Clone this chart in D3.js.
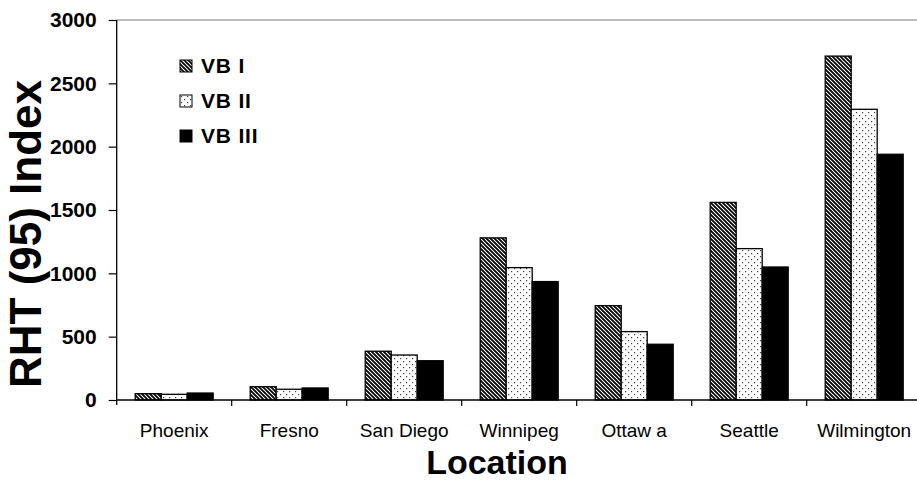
<!DOCTYPE html>
<html>
<head>
<meta charset="utf-8">
<script src="https://cdn.jsdelivr.net/npm/d3@7"></script>
<style>
  html, body { margin: 0; padding: 0; background: #fff; }
  svg { display: block; font-family: Arial, "Liberation Sans", sans-serif; }
</style>
</head>
<body>
<svg id="chart" width="917" height="480"></svg>
<script>
// Locations along the x axis
const locations = ["Phoenix", "Fresno", "San Diego", "Winnipeg", "Ottaw a", "Seattle", "Wilmington"];
// Series names
const seriesNames = ["VB I", "VB II", "VB III"];
// RHT(95) index values per series, in location order
const vb1 = [50, 105, 385, 1280, 745, 1560, 2715];
const vb2 = [45, 85, 355, 1045, 540, 1195, 2295];
const vb3 = [55, 95, 310, 935, 440, 1050, 1940];
const yTicks = [0, 500, 1000, 1500, 2000, 2500, 3000];

const seriesValues = [vb1, vb2, vb3];
const fills = ["url(#hatch)", "url(#dots)", "#000"];

const svg = d3.select("#chart");
const plotLeft = 116.7, plotRight = 921.7, plotTop = 20, plotBottom = 400;

// Fill patterns
const defs = svg.append("defs");
const hatch = defs.append("pattern")
  .attr("id", "hatch").attr("patternUnits", "userSpaceOnUse")
  .attr("width", 4).attr("height", 4);
hatch.append("rect").attr("width", 4).attr("height", 4).attr("fill", "#fff");
hatch.append("path")
  .attr("d", "M-1,-1 L5,5 M-1,3 L1,5 M3,-1 L5,1")
  .attr("stroke", "#000").attr("stroke-width", 1.8);

const dots = defs.append("pattern")
  .attr("id", "dots").attr("patternUnits", "userSpaceOnUse")
  .attr("width", 6).attr("height", 6);
dots.append("rect").attr("width", 6).attr("height", 6).attr("fill", "#fff");
dots.append("rect").attr("x", 1).attr("y", 1).attr("width", 1.2).attr("height", 1.2).attr("fill", "#444");
dots.append("rect").attr("x", 4).attr("y", 4).attr("width", 1.2).attr("height", 1.2).attr("fill", "#444");

// Scales
const x = d3.scaleBand().domain(locations).range([plotLeft, plotRight]).padding(0);
const bw = x.bandwidth();
const xs = d3.scaleBand().domain(seriesNames).range([bw * 0.161, bw * 0.839]).padding(0);
const y = d3.scaleLinear().domain([0, 3000]).range([plotBottom, plotTop]);

// Plot frame top line
svg.append("line")
  .attr("x1", plotLeft).attr("x2", 917).attr("y1", y(3000)).attr("y2", y(3000))
  .attr("stroke", "#777").attr("stroke-width", 1.2);

// Bars
const groups = svg.append("g").selectAll("g")
  .data(seriesNames)
  .join("g")
  .attr("fill", (d, i) => fills[i]);

groups.selectAll("rect")
  .data((s, i) => locations.map((loc, j) => ({ loc, s, v: seriesValues[i][j] })))
  .join("rect")
  .attr("x", d => x(d.loc) + xs(d.s))
  .attr("y", d => y(d.v))
  .attr("width", xs.bandwidth())
  .attr("height", d => y(0) - y(d.v))
  .attr("stroke", "#000")
  .attr("stroke-width", 1.3);

// Y axis
const yAxis = svg.append("g")
  .attr("transform", `translate(${plotLeft},0)`)
  .call(d3.axisLeft(y).tickValues(yTicks).tickSize(8).tickPadding(12).tickFormat(d3.format("d")));
yAxis.select(".domain").attr("d", `M0,${plotTop}V${plotBottom + 5}`).attr("stroke", "#000").attr("stroke-width", 1.3);
yAxis.selectAll(".tick line").attr("stroke", "#000").attr("stroke-width", 1.2);
yAxis.selectAll(".tick text")
  .attr("font-size", 21).attr("font-weight", "bold").attr("fill", "#000")
  .attr("font-family", "Arial, 'Liberation Sans', sans-serif");

// X axis with ticks between categories
const xAxis = svg.append("g").attr("transform", `translate(0,${plotBottom})`);
xAxis.append("line")
  .attr("x1", plotLeft).attr("x2", plotRight).attr("y1", 0).attr("y2", 0)
  .attr("stroke", "#000").attr("stroke-width", 1.3);
xAxis.selectAll("line.sep")
  .data(locations.slice(1))
  .join("line").attr("class", "sep")
  .attr("x1", d => x(d)).attr("x2", d => x(d))
  .attr("y1", 0).attr("y2", 6)
  .attr("stroke", "#000").attr("stroke-width", 1.2);
xAxis.selectAll("text")
  .data(locations)
  .join("text")
  .attr("x", d => x(d) + bw / 2)
  .attr("y", 36.5)
  .attr("text-anchor", "middle")
  .attr("font-size", 19)
  .attr("fill", "#000")
  .text(d => d);

// Axis titles
svg.append("text")
  .attr("x", 497).attr("y", 474)
  .attr("text-anchor", "middle")
  .attr("font-size", 34).attr("font-weight", "bold")
  .text("Location");

svg.append("text")
  .attr("transform", "translate(41,234) rotate(-90)")
  .attr("text-anchor", "middle")
  .attr("font-size", 44).attr("font-weight", "bold")
  .text("RHT (95) Index");

// Legend
const legend = svg.append("g").selectAll("g")
  .data(seriesNames)
  .join("g")
  .attr("transform", (d, i) => `translate(180,${60 + i * 35})`);
legend.append("rect")
  .attr("width", 12).attr("height", 12)
  .attr("fill", (d, i) => fills[i])
  .attr("stroke", "#000").attr("stroke-width", 1);
legend.append("text")
  .attr("x", 21).attr("y", 13)
  .attr("font-size", 21).attr("font-weight", "bold")
  .attr("letter-spacing", 0.8)
  .text(d => d);
</script>
</body>
</html>
